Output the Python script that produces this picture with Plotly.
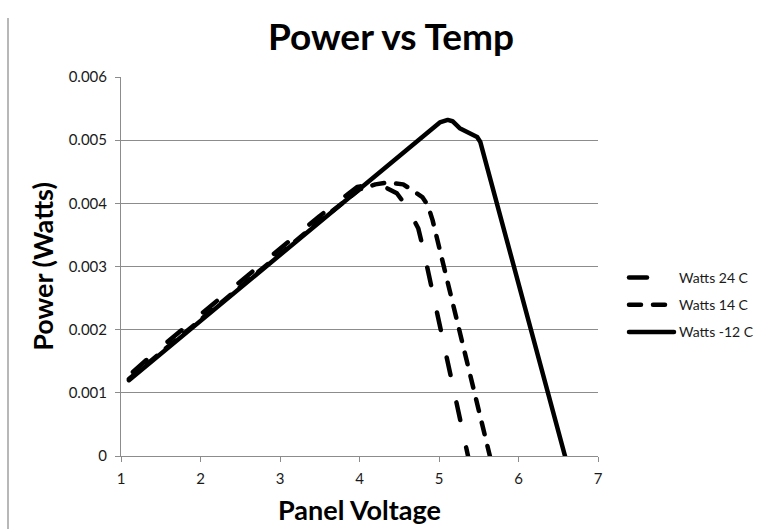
import plotly.graph_objects as go

# ---- data ----
x_24 = [1.15, 1.3, 1.5, 2.0, 2.5, 3.0, 3.5, 3.97, 4.15, 4.3, 4.47, 4.61, 4.74, 4.8, 5.365]
y_24 = [0.00133, 0.00150, 0.00172, 0.00224, 0.00276, 0.00328, 0.0038, 0.00426, 0.0043,
        0.00427, 0.00416, 0.00392, 0.0036, 0.00329, 0.0]

x_14 = [1.1, 1.5, 2.0, 2.5, 3.0, 3.5, 4.0, 4.2, 4.36, 4.55, 4.66, 4.79, 4.86, 4.92, 5.64]
y_14 = [0.00122, 0.00164, 0.00216, 0.00268, 0.0032, 0.00372, 0.00422, 0.0043, 0.00433,
        0.0043, 0.00421, 0.0041, 0.00397, 0.00373, 0.0]

x_m12 = [1.1, 2.0, 3.0, 4.0, 4.9, 5.01, 5.11, 5.17, 5.26, 5.4, 5.48, 5.52, 6.0, 6.585]
y_m12 = [0.0012, 0.00214, 0.00318, 0.00422, 0.00516, 0.00528, 0.00532, 0.0053, 0.00519,
         0.0051, 0.00505, 0.00497, 0.00273, 0.0]

series_names = ["Watts 24 C", "Watts 14 C", "Watts -12 C"]

x_ticks = [1, 2, 3, 4, 5, 6, 7]
x_tick_labels = ["1", "2", "3", "4", "5", "6", "7"]
y_ticks = [0, 0.001, 0.002, 0.003, 0.004, 0.005, 0.006]
y_tick_labels = ["0", "0.001", "0.002", "0.003", "0.004", "0.005", "0.006"]

title_text = "Power vs Temp"
x_title = "Panel Voltage"
y_title = "Power (Watts)"

FONT = "Lato"
W, H = 763, 529
L, R, T, B = 121, 598, 77, 456
PW, PH = R - L, B - T

fig = go.Figure()
styles = [
    dict(color="black", width=4.5, dash="18px,28px"),
    dict(color="black", width=4.5, dash="12px,12px"),
    dict(color="black", width=4.5, dash="solid"),
]
for xs, ys, name, st in zip([x_24, x_14, x_m12], [y_24, y_14, y_m12], series_names, styles):
    fig.add_trace(go.Scatter(x=xs, y=ys, mode="lines", name=name, line=st,
                             legendgroup=name))

grid = "#8c8c8c"
fig.update_layout(
    width=W, height=H,
    margin=dict(l=L, r=W - R, t=T, b=H - B, pad=0, autoexpand=False),
    paper_bgcolor="white", plot_bgcolor="white",
    font=dict(family=FONT, color="#1a1a1a"),
    title=dict(text=title_text, font=dict(family=FONT, size=37, color="black", weight="bold"),
               x=391 / W, xanchor="center", xref="container",
               y=1 - 37 / H, yanchor="middle", yref="container"),
    showlegend=True,
    legend=dict(x=(624 - L) / PW, xanchor="left", y=(B - 305) / PH, yanchor="middle",
                font=dict(family=FONT, size=14, color="#1a1a1a"),
                itemwidth=45, tracegroupgap=6, bgcolor="rgba(0,0,0,0)",
                traceorder="grouped"),
    xaxis=dict(range=[1, 7], tickvals=x_ticks, ticktext=x_tick_labels,
               showgrid=False, zeroline=False, showline=True, linecolor=grid, linewidth=1,
               ticks="outside", ticklen=5, tickcolor=grid, ticklabelstandoff=4,
               tickfont=dict(family=FONT, size=15, color="#1a1a1a"),
               title=dict(text=x_title, font=dict(family=FONT, size=27, color="black", weight="bold"),
                          standoff=15)),
    yaxis=dict(range=[0, 0.006], tickvals=y_ticks, ticktext=y_tick_labels,
               showgrid=True, gridcolor=grid, gridwidth=1, zeroline=False,
               showline=True, linecolor=grid, linewidth=1,
               ticks="outside", ticklen=5, tickcolor=grid, ticklabelstandoff=5,
               tickfont=dict(family=FONT, size=15, color="#1a1a1a"),
               title=dict(text=y_title, font=dict(family=FONT, size=27, color="black", weight="bold"),
                          standoff=7)),
)

# thin grey frame edge at the left of the chart area
fig.add_shape(type="line", xref="paper", yref="paper",
              x0=(8 - L) / PW, x1=(8 - L) / PW,
              y0=(B - H) / PH, y1=(B - 18) / PH,
              line=dict(color="#a0a0a0", width=1.5))

fig.write_html(
    "out.html",
    config={"displayModeBar": False},
    post_script=(
        "document.body.style.margin='0px';"
        "document.body.style.overflow='hidden';"
        "document.querySelectorAll('path.js-line').forEach(function(p){"
        "p.style.strokeLinecap='round';p.style.strokeLinejoin='round';});"
    ),
)
